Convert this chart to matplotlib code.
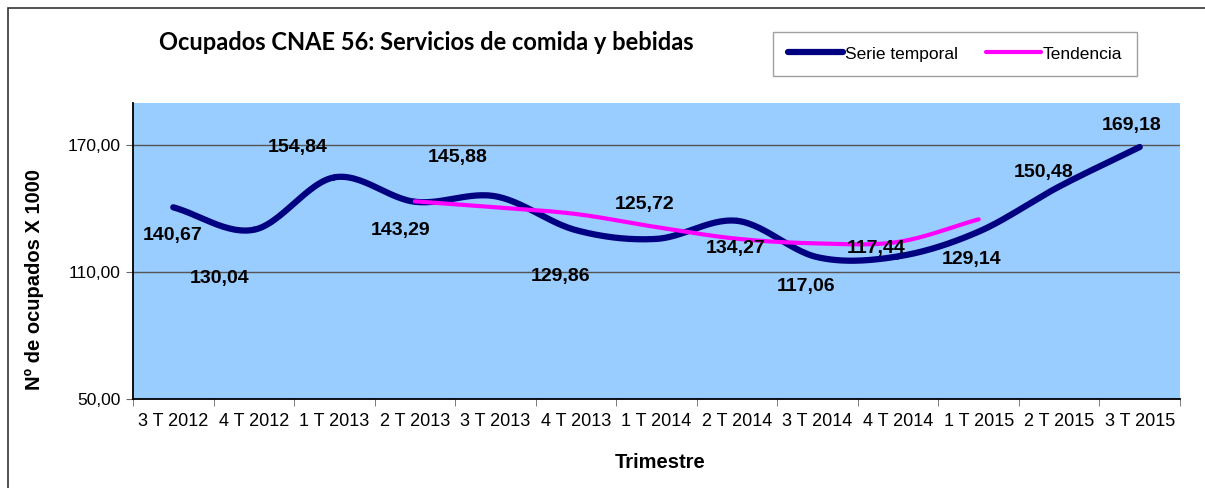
import matplotlib.pyplot as plt
import numpy as np
from matplotlib.patches import Rectangle

# data
trimestres = ['3 T 2012', '4 T 2012', '1 T 2013', '2 T 2013', '3 T 2013', '4 T 2013',
              '1 T 2014', '2 T 2014', '3 T 2014', '4 T 2014', '1 T 2015', '2 T 2015', '3 T 2015']
serie = [140.67, 130.04, 154.84, 143.29, 145.88, 129.86, 125.72,
         134.27, 117.06, 117.44, 129.14, 150.48, 169.18]
# polynomial trend, only drawn from 2 T 2013 to 1 T 2015
tendencia_idx = [3, 4, 5, 6, 7, 8, 9, 10]
tendencia = [143.5, 140.7, 137.5, 131.3, 125.8, 123.6, 124.3, 135.0]

# label offsets in pixels (dx, dy) as placed in the original sheet
label_off = [(-1, -28), (-34, -49), (-37, 30), (-14, -29), (-38, 39), (-15, -46), (-12, 34),
             (-1, -28), (-12, -29), (-22, 8), (-7, -28), (-16, 14), (-8, 22)]


def smooth(x, y, n=30):
    # catmull-rom, roughly what excel does for "smoothed line"
    x = np.asarray(x, float)
    y = np.asarray(y, float)
    px = np.concatenate([[2 * x[0] - x[1]], x, [2 * x[-1] - x[-2]]])
    py = np.concatenate([[2 * y[0] - y[1]], y, [2 * y[-1] - y[-2]]])
    xs, ys = [], []
    t = np.linspace(0, 1, n)
    for i in range(1, len(px) - 2):
        for p, out in ((px, xs), (py, ys)):
            p0, p1, p2, p3 = p[i - 1], p[i], p[i + 1], p[i + 2]
            out.extend(0.5 * (2 * p1 + (-p0 + p2) * t + (2 * p0 - 5 * p1 + 4 * p2 - p3) * t ** 2
                              + (-p0 + 3 * p1 - 3 * p2 + p3) * t ** 3))
    return np.array(xs), np.array(ys)


fig = plt.figure(figsize=(12.05, 4.88), dpi=100)
ax = fig.add_axes([133 / 1205, 1 - 399 / 488, 1047 / 1205, 296 / 488])
ax.set_facecolor('#99CCFF')

# outer chart border
fig.patches.append(Rectangle((8 / 1205, -0.1), 1.2, 1 - 8 / 488 + 0.1, transform=fig.transFigure,
                             fill=False, edgecolor='#333333', linewidth=1.2))

x = np.arange(len(serie))
sx, sy = smooth(x, serie)
ax.plot(sx, sy, color='#000080', linewidth=4.5, solid_capstyle='round', label='Serie temporal', zorder=3)
tx, ty = smooth(tendencia_idx, tendencia)
ax.plot(tx, ty, color='#FF00FF', linewidth=3, solid_capstyle='round', label='Tendencia', zorder=4)

for i, v in enumerate(serie):
    ax.annotate(f'{v:.2f}'.replace('.', ','), (i, v), xytext=label_off[i], textcoords='offset pixels',
                ha='center', va='center', fontsize=14, fontweight='bold',
                family='Liberation Sans', zorder=5)

ax.set_xlim(-0.5, len(serie) - 0.5)
ax.set_ylim(50, 190)
ax.set_yticks([50, 110, 170])
ax.set_yticklabels(['50,00', '110,00', '170,00'], family='Liberation Sans', fontsize=12.5)
ax.set_xticks(x)
ax.set_xticklabels(trimestres, family='Liberation Sans', fontsize=13)
ax.set_xticks(np.arange(-0.5, len(serie)), minor=True)
ax.tick_params(axis='x', which='major', length=0, pad=10)
ax.tick_params(axis='x', which='minor', length=5, color='#666666')
ax.tick_params(axis='y', length=5, color='#666666', pad=4)
ax.grid(axis='y', color='#555555', linewidth=1)
ax.set_axisbelow(True)
for s in ('top', 'right'):
    ax.spines[s].set_visible(False)
ax.spines['left'].set_linewidth(1.3)
ax.spines['bottom'].set_linewidth(1.3)

ax.set_ylabel('Nº de ocupados X 1000', family='Liberation Sans', fontsize=14.5, fontweight='bold')
ax.yaxis.set_label_coords(-89 / 1047, (399 - 280) / 296)
ax.set_xlabel('Trimestre', family='Liberation Sans', fontsize=14.5, fontweight='bold')
ax.xaxis.set_label_coords((660 - 133) / 1047, -(453 - 399) / 296)

fig.text(426 / 1205, 1 - 42 / 488, 'Ocupados CNAE 56: Servicios de comida y bebidas',
         ha='center', va='center', fontsize=17, fontweight='bold', family='Lato')

leg = fig.legend(loc='center', bbox_to_anchor=(955 / 1205, 1 - 54 / 488), ncol=2,
                 prop={'family': 'Liberation Sans', 'size': 12.5}, fancybox=False,
                 edgecolor='#888888', handlelength=3.2, handletextpad=0.1, columnspacing=1.6,
                 borderpad=0.85)
leg.get_frame().set_linewidth(1)

fig.savefig('out.png', dpi=100)
